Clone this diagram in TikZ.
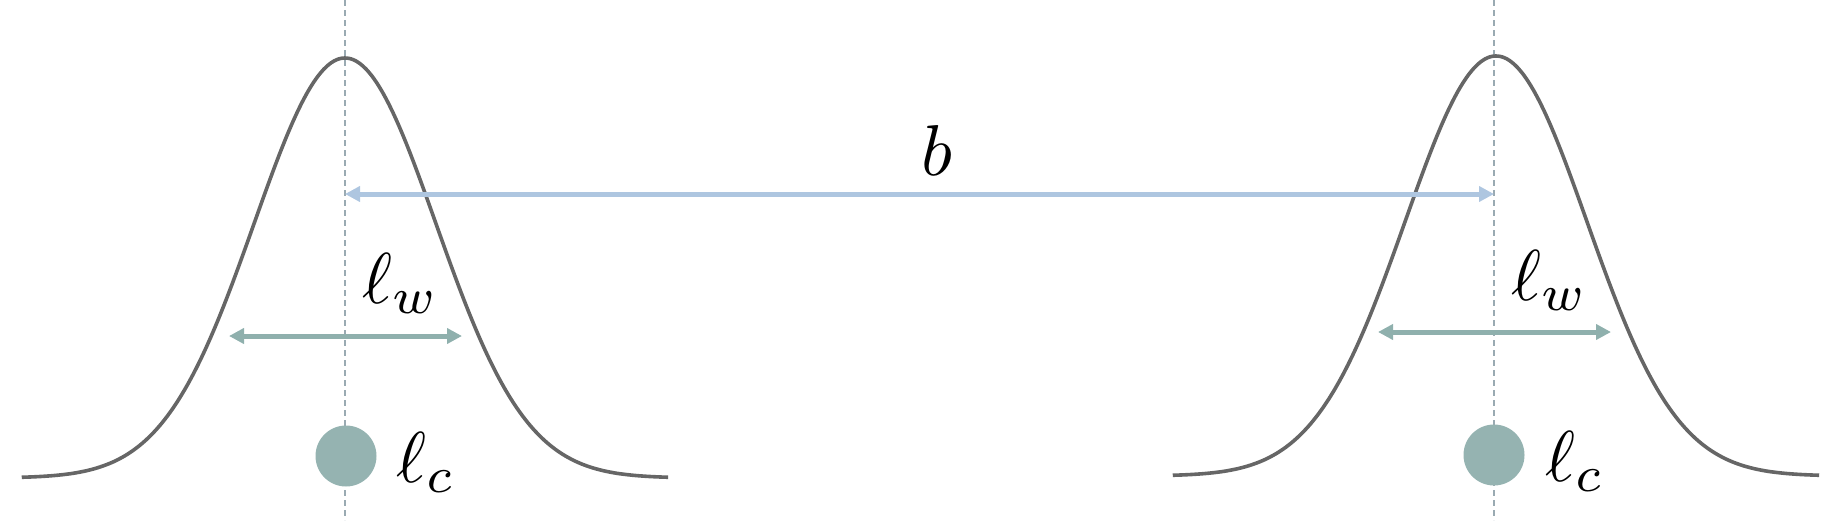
\documentclass[tikz,border=0pt]{standalone}
\usepackage{graphicx}
\usetikzlibrary{arrows.meta}
\definecolor{bcol}{HTML}{AEC6E0}
\definecolor{wcol}{HTML}{8FB0AD}
\definecolor{ccol}{HTML}{95B3B1}
\definecolor{dcol}{HTML}{9AAAB2}
\definecolor{gcol}{HTML}{666666}
\newcommand{\hugemath}[1]{\scalebox{7.2}{$#1$}}
\tikzset{
  guide/.style={draw=dcol, line width=1.1pt, dash pattern=on 6pt off 4pt},
  bell/.style={draw=gcol, line width=3.6pt, line join=round},
  barrow/.style={draw=bcol, line width=5pt, {Triangle[length=15pt,width=15pt]}-{Triangle[length=15pt,width=15pt]}},
  warrow/.style={draw=wcol, line width=5pt, {Triangle[length=15pt,width=15pt]}-{Triangle[length=15pt,width=15pt]}},
  dot/.style={circle, fill=ccol, minimum size=61pt, inner sep=0pt},
  lab/.style={inner sep=0pt},
}
\begin{document}
\begin{tikzpicture}[x=1pt,y=-1pt]
\useasboundingbox (0,0) rectangle (1846,520);
% centres
\coordinate (topL) at (345,0);
\coordinate (botL) at (345,520);
\coordinate (topR) at (1494,0);
\coordinate (botR) at (1494,520);
\draw[guide] (topL) -- (botL);
\draw[guide] (topR) -- (botR);
% bell curves
\draw[bell] plot[domain=-3.56:3.56, samples=121, smooth] ({345+90.8*\x},{478-420*exp(-\x*\x/2)});
\draw[bell] plot[domain=-3.56:3.56, samples=121, smooth] ({1496+90.8*\x},{476-420*exp(-\x*\x/2)});
% b arrow
\coordinate (bL) at (345,194);
\coordinate (bR) at (1494,194);
\draw[barrow] (bL) -- (bR);
\node[lab, anchor=base] (blab) at (937,175) {\hugemath{b}};
% width arrows
\coordinate (wLa) at (229,336);
\coordinate (wLb) at (462,336);
\coordinate (wRa) at (1378,332);
\coordinate (wRb) at (1611,332);
\draw[warrow] (wLa) -- (wLb);
\draw[warrow] (wRa) -- (wRb);
\node[lab, anchor=base west] (lwL) at (362,303) {\hugemath{\ell_w}};
\node[lab, anchor=base west] (lwR) at (1511,300) {\hugemath{\ell_w}};
% dots
\node[dot] (dotL) at (346,456) {};
\node[dot] (dotR) at (1494,455) {};
\node[lab, anchor=base west] (lcL) at (396,482) {\hugemath{\ell_c}};
\node[lab, anchor=base west] (lcR) at (1545,481) {\hugemath{\ell_c}};
\end{tikzpicture}
\end{document}
